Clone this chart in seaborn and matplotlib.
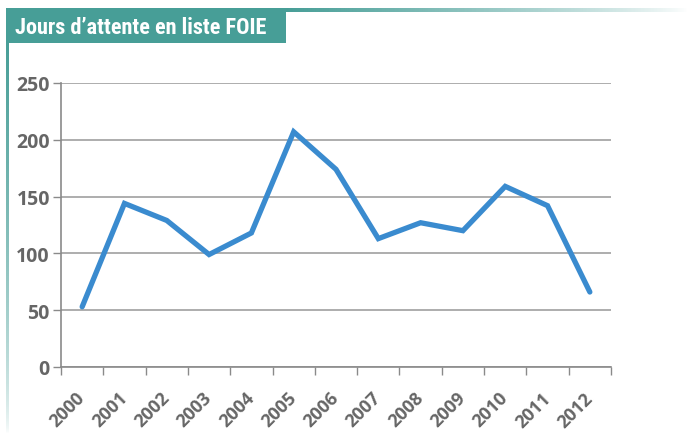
import matplotlib
matplotlib.use("Agg")
import matplotlib.pyplot as plt
import seaborn as sns
import numpy as np
import pandas as pd

years = ["2000", "2001", "2002", "2003", "2004", "2005", "2006",
         "2007", "2008", "2009", "2010", "2011", "2012"]
days = [53, 144, 129, 99, 118, 207, 174, 113, 127, 120, 159, 142, 66]
y_ticks = [0, 50, 100, 150, 200, 250]
title = "Jours d\u2019attente en liste FOIE"

teal = "#479e97"
blue = "#3a8bcf"
grey_txt = "#666666"

sns.set_style("white")
plt.rcParams["font.family"] = ["Open Sans", "DejaVu Sans"]

df = pd.DataFrame({"year": years, "days": days})

fig = plt.figure(figsize=(6.88, 4.35), dpi=100)

# decorative background: gradient lines + title box
bg = fig.add_axes([0, 0, 1, 1], zorder=0)
bg.set_xlim(0, 688)
bg.set_ylim(435, 0)
bg.axis("off")
teal_rgb = matplotlib.colors.to_rgb(teal)
h = np.ones((1, 256, 4))
h[..., :3] = teal_rgb
h[0, :, 3] = np.linspace(1, 0, 256) ** 0.8
bg.imshow(h, extent=(286, 688, 13, 9), aspect="auto", interpolation="bilinear")
v = np.ones((256, 1, 4))
v[..., :3] = teal_rgb
v[:, 0, 3] = np.linspace(1, 0, 256) ** 0.6
bg.imshow(v, extent=(6, 9, 435, 44), aspect="auto", interpolation="bilinear")
bg.add_patch(plt.Rectangle((6, 9), 280, 35, color=teal, lw=0))
bg.text(15, 27.5, title, color="white", fontsize=16, fontweight="bold",
        family=["Roboto Condensed", "Liberation Sans Narrow", "Roboto", "DejaVu Sans"],
        va="center", ha="left")

ax = fig.add_axes([61 / 688, 1 - 368 / 435, 550 / 688, (368 - 84) / 435], zorder=1)
ax.patch.set_alpha(0)
sns.lineplot(data=df, x="year", y="days", ax=ax, color=blue, linewidth=3.8,
             solid_joinstyle="miter", sort=False)

ax.set_xlim(-0.5, len(years) - 0.5)
ax.set_ylim(0, 250)
ax.set_yticks(y_ticks)
ax.set_yticklabels([str(t) for t in y_ticks])
ax.yaxis.grid(True, color="#a0a0a0", lw=1.2)
ax.set_axisbelow(True)
ax.set_xticks(range(len(years)))
ax.set_xticklabels(years, rotation=45, ha="right", va="center",
                   rotation_mode="anchor")
ax.set_xticks(np.arange(-0.5, len(years)), minor=True)
ax.tick_params(axis="x", which="major", length=0, pad=20, labelsize=13,
               labelcolor=grey_txt)
ax.tick_params(axis="x", which="minor", length=6, width=1, color="#8a8a8a",
               direction="out", bottom=True)
ax.tick_params(axis="y", length=6, width=1, color="#8a8a8a", left=True,
               labelsize=14, labelcolor=grey_txt, pad=2)
for lab in ax.get_xticklabels() + ax.get_yticklabels():
    lab.set_fontweight("bold")
ax.set_xlabel("")
ax.set_ylabel("")
for s in ["top", "right"]:
    ax.spines[s].set_visible(False)
for s in ["left", "bottom"]:
    ax.spines[s].set_color("#8a8a8a")
    ax.spines[s].set_linewidth(1.2)

fig.savefig("out.png", dpi=100)
